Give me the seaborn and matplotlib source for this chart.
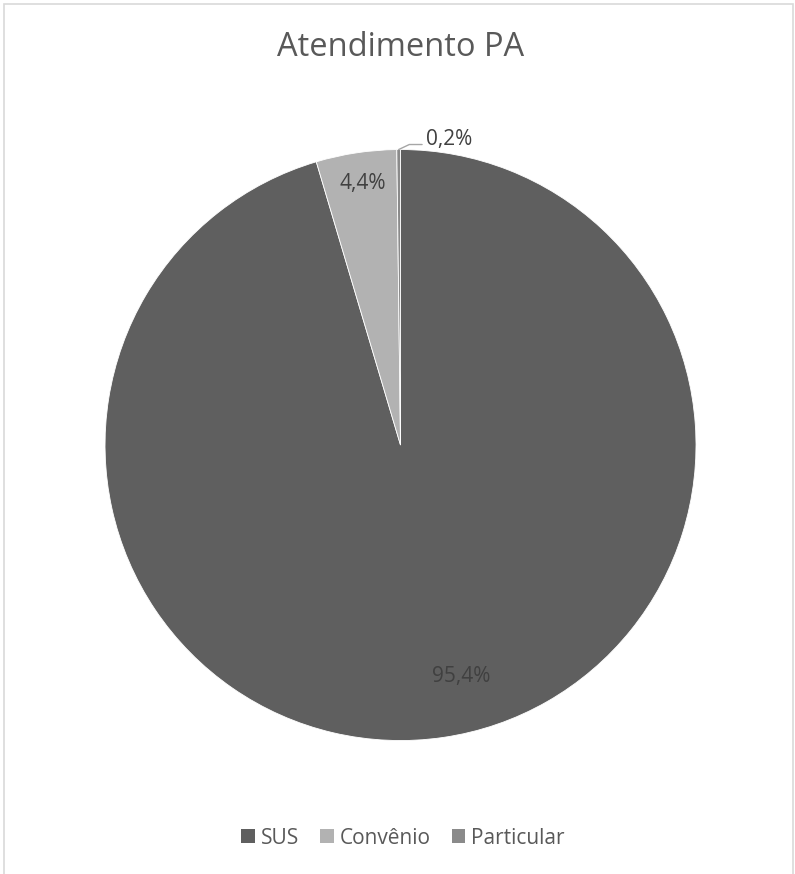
import matplotlib
matplotlib.use("Agg")
import matplotlib.pyplot as plt
from matplotlib.patches import Rectangle, Patch
import numpy as np
import seaborn as sns

sns.set_theme(style="white")
plt.rcParams['font.family'] = ['Open Sans', 'DejaVu Sans']

title = "Atendimento PA"
categories = ["SUS", "Convênio", "Particular"]
values = [95.4, 4.4, 0.2]
value_labels = ["95,4%", "4,4%", "0,2%"]
colors = ["#5f5f5f", "#b2b2b2", "#8a8a8a"]

fig = plt.figure(figsize=(7.95, 8.74), dpi=100)
ax = fig.add_axes([0.1321, 0.1527, 0.7434, 0.6762])

wedges, _ = ax.pie(values, colors=colors, startangle=90, counterclock=False,
                   radius=1.0, wedgeprops=dict(edgecolor="white", linewidth=0.6))
ax.set_xlim(-1, 1)
ax.set_ylim(-1, 1)
ax.set_aspect("equal")
ax.axis("off")

# label placement (style): radius factor and angle offset per wedge
label_r = [0.81, 0.895, None]
label_dang = [6.4, -0.5, 0]
text_col = "#404040"
for i, w in enumerate(wedges):
    mid = np.deg2rad((w.theta1 + w.theta2) / 2 + label_dang[i])
    if label_r[i] is not None:
        ax.text(label_r[i] * np.cos(mid), label_r[i] * np.sin(mid), value_labels[i],
                ha="center", va="center", fontsize=15, color=text_col)
    else:
        x0, y0 = np.cos(mid), np.sin(mid)
        bx, by = x0 + 0.036, 1.017
        ex = 0.073
        ax.plot([x0, bx, ex], [y0, by, by], color="#a6a6a6", lw=1.0, clip_on=False)
        ax.text(ex + 0.014, by + 0.018, value_labels[i], ha="left", va="center",
                fontsize=15, color=text_col, clip_on=False)

fig.text(0.5038, 1 - 47 / 874, title, ha="center", va="center",
         fontsize=23.5, color="#595959")

handles = [Patch(facecolor=c, edgecolor="none") for c in colors]
fig.legend(handles, categories, loc="center", bbox_to_anchor=(403 / 795, 1 - 838 / 874),
           ncol=3, frameon=False, handlelength=0.65, handleheight=0.65,
           handletextpad=0.3, columnspacing=1.0, fontsize=15, labelcolor="#595959")

fig.patches.append(Rectangle((3.5 / 795, -0.01), (793 - 3.5) / 795, 1 - 3.5 / 874 + 0.01,
                             transform=fig.transFigure, fill=False,
                             edgecolor="#d9d9d9", lw=1.2))

fig.savefig("out.png", dpi=100, facecolor="white")
